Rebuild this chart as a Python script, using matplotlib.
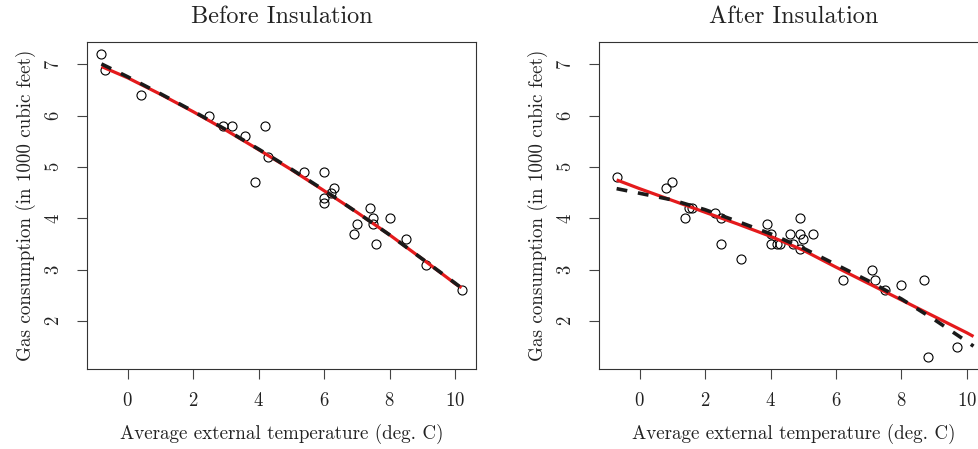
import numpy as np
import matplotlib
matplotlib.use("Agg")
import matplotlib.pyplot as plt

# whiteside gas data
before_temp = [-0.8, -0.7, 0.4, 2.5, 2.9, 3.2, 3.6, 3.9, 4.2, 4.3, 5.4, 6.0, 6.0, 6.0,
               6.2, 6.3, 6.9, 7.0, 7.4, 7.5, 7.5, 7.6, 8.0, 8.5, 9.1, 10.2]
before_gas = [7.2, 6.9, 6.4, 6.0, 5.8, 5.8, 5.6, 4.7, 5.8, 5.2, 4.9, 4.9, 4.3, 4.4,
              4.5, 4.6, 3.7, 3.9, 4.2, 4.0, 3.9, 3.5, 4.0, 3.6, 3.1, 2.6]
after_temp = [-0.7, 0.8, 1.0, 1.4, 1.5, 1.6, 2.3, 2.5, 2.5, 3.1, 3.9, 4.0, 4.0, 4.2, 4.3,
              4.6, 4.7, 4.9, 4.9, 4.9, 5.0, 5.3, 6.2, 7.1, 7.2, 7.5, 8.0, 8.7, 8.8, 9.7]
after_gas = [4.8, 4.6, 4.7, 4.0, 4.2, 4.2, 4.1, 4.0, 3.5, 3.2, 3.9, 3.5, 3.7, 3.5, 3.5,
             3.7, 3.5, 3.4, 3.7, 4.0, 3.6, 3.7, 2.8, 3.0, 2.8, 2.6, 2.7, 2.8, 1.3, 1.5]

# fitted curves
before_curve_x = [-0.8, 0, 1, 2, 3, 4, 5, 6, 7, 8, 9, 10, 10.2]
before_dash_y = [7.01, 6.76, 6.43, 6.09, 5.73, 5.35, 4.96, 4.55, 4.12, 3.68, 3.21, 2.74, 2.64]
before_red_y = [6.96, 6.74, 6.42, 6.08, 5.72, 5.34, 4.95, 4.54, 4.12, 3.68, 3.21, 2.73, 2.65]

after_curve_x = [-0.7, 0, 1, 2, 3, 4, 5, 6, 7, 8, 9, 10, 10.2]
after_dash_y = [4.58, 4.49, 4.36, 4.17, 3.94, 3.70, 3.42, 3.10, 2.78, 2.43, 2.03, 1.60, 1.51]
after_red_y = [4.75, 4.58, 4.35, 4.12, 3.89, 3.65, 3.38, 3.05, 2.73, 2.41, 2.09, 1.77, 1.70]

x_ticks = [0, 2, 4, 6, 8, 10]
y_ticks = [2, 3, 4, 5, 6, 7]
XLIM = (-1.24, 10.64)
YLIM = (1.064, 7.436)

plt.rcParams['font.family'] = ['cmr10', 'DejaVu Serif']
plt.rcParams['axes.formatter.use_mathtext'] = True
plt.rcParams['axes.unicode_minus'] = False

RED = '#e41a1c'
INK = '#222222'

fig = plt.figure(figsize=(9.79, 4.49), dpi=100)
ax1 = fig.add_axes([0.0889, 0.178, 0.3973, 0.7283])
ax2 = fig.add_axes([0.6118, 0.178, 0.3973, 0.7283])

panels = [
    (ax1, "Before Insulation", before_temp, before_gas, before_curve_x, before_red_y, before_dash_y),
    (ax2, "After Insulation", after_temp, after_gas, after_curve_x, after_red_y, after_dash_y),
]

for ax, title, tx, gy, cx, ry, dy in panels:
    ax.plot(tx, gy, 'o', mfc='none', mec='black', ms=6.5, mew=0.8, zorder=2)
    ax.plot(cx, ry, color=RED, lw=2.3, solid_capstyle='butt', zorder=3)
    ax.plot(cx, dy, color='#1a1a1a', lw=2.6, dashes=(3.0, 3.0), dash_capstyle='butt', zorder=4)
    ax.set_xlim(*XLIM)
    ax.set_ylim(*YLIM)
    ax.set_xticks(x_ticks)
    ax.set_yticks(y_ticks)
    ax.tick_params(direction='out', length=7, width=0.8, color='#444444',
                   labelsize=13.5, labelcolor=INK)
    ax.tick_params(axis='x', pad=9.5)
    ax.tick_params(axis='y', pad=10)
    for lab in ax.get_yticklabels():
        lab.set_rotation(90)
        lab.set_va('center')
    for s in ax.spines.values():
        s.set_linewidth(0.8)
        s.set_color('#333333')
    ax.set_xlabel("Average external temperature (deg. C)", fontsize=13.7, color=INK, labelpad=10)
    ax.set_ylabel("Gas consumption (in 1000 cubic feet)", fontsize=13.7, color=INK, labelpad=7)
    ax.set_title(title, fontsize=17.5, color=INK, pad=14)

fig.savefig("out.png", dpi=100)
